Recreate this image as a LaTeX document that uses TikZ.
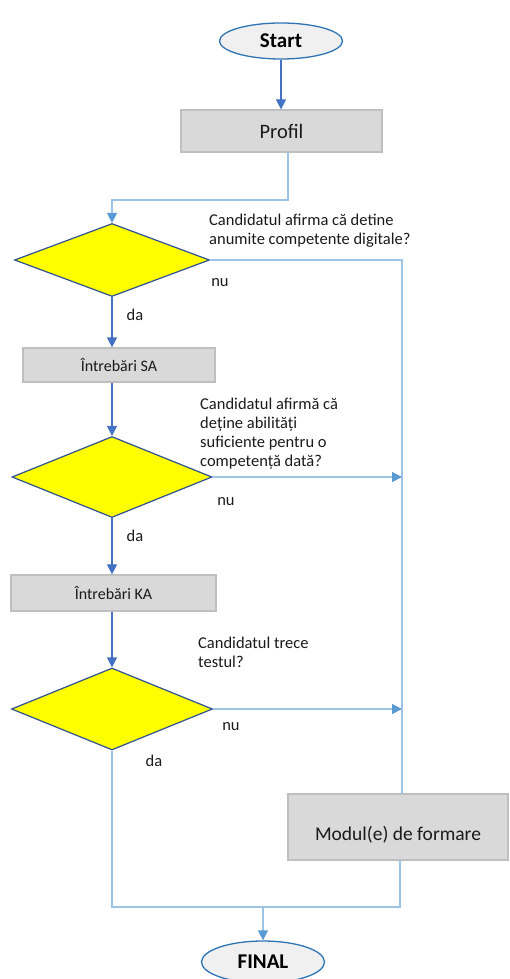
\documentclass[tikz,border=0pt]{standalone}
\usepackage{fontspec}
\setmainfont{Carlito}
\usetikzlibrary{arrows.meta,shapes.geometric,calc}
\definecolor{mainblue}{HTML}{4472C4}
\definecolor{lightline}{HTML}{9DC3E6}
\definecolor{tipblue}{HTML}{5B9BD5}
\definecolor{dborder}{HTML}{2F528F}
\definecolor{eborder}{HTML}{2E75B6}
\definecolor{efill}{HTML}{F0F0F0}
\definecolor{bfill}{HTML}{D9D9D9}
\definecolor{bborder}{HTML}{BFBFBF}
\definecolor{txt}{HTML}{1A1A1A}
\definecolor{dfill}{RGB}{255,255,0}
\tikzset{
  term/.style={ellipse, draw=eborder, line width=1.3pt, fill=efill, inner sep=0pt, font=\fontsize{21}{23}\selectfont\bfseries, text=black},
  procbox/.style={rectangle, draw=bborder, line width=1.2pt, fill=bfill, inner sep=0pt, text=txt},
  decision/.style={diamond, draw=dborder, line width=1.2pt, fill=dfill, inner sep=0pt},
  qtext/.style={align=left, inner sep=0pt, font=\fontsize{16.5}{19}\selectfont, text=txt},
  lbl/.style={inner sep=0pt, font=\fontsize{16.5}{19}\selectfont, text=txt},
  darrow/.style={draw=mainblue, line width=1.1pt, -{Triangle[length=10pt,width=10pt,color=mainblue]}},
  lline/.style={draw=lightline, line width=1.4pt},
  larrow/.style={draw=lightline, line width=1.4pt, -{Triangle[length=10pt,width=10pt,color=tipblue]}},
}
\begin{document}
\begin{tikzpicture}[x=1pt,y=-1pt]
\useasboundingbox (0,0) rectangle (509,979);
% nodes
\node[term, minimum width=123pt, minimum height=36pt] (start) at (281,41) {Start};
\node[procbox, minimum width=201pt, minimum height=42pt, font=\fontsize{20.5}{23}\selectfont] (profil) at (281.5,131) {Profil};
\node[decision, minimum width=195pt, minimum height=73pt] (d1) at (112,260) {};
\node[procbox, minimum width=192pt, minimum height=34pt, font=\fontsize{16}{18}\selectfont] (sa) at (119,365) {Întrebări SA};
\node[decision, minimum width=200pt, minimum height=81pt] (d2) at (112,477) {};
\node[procbox, minimum width=205pt, minimum height=36pt, font=\fontsize{16}{18}\selectfont] (ka) at (113.5,593) {Întrebări KA};
\node[decision, minimum width=201pt, minimum height=82pt] (d3) at (112,709) {};
\node[procbox, minimum width=220pt, minimum height=66pt] (mod) at (398,827) {};
\node[lbl, font=\fontsize{19.5}{22}\selectfont] (modtxt) at (398,835) {Modul(e) de formare};
\node[term, minimum width=123pt, minimum height=42pt] (final) at (263,962) {FINAL};
% texts
\node[qtext, anchor=west] (q1) at (209,230.5) {Candidatul afirma că detine\\anumite competente digitale?};
\node[qtext, anchor=west] (q2) at (200,433.5) {Candidatul afirmă că\\deține abilități\\suficiente pentru o\\competență dată?};
\node[qtext, anchor=west] (q3) at (198,652) {Candidatul trece\\testul?};
\node[lbl] (nu1) at (220,283) {nu};
\node[lbl] (da1) at (135,315) {da};
\node[lbl] (nu2) at (226,502) {nu};
\node[lbl] (da2) at (135,536) {da};
\node[lbl] (nu3) at (231,727) {nu};
\node[lbl] (da3) at (154,761) {da};
% helper coordinates
\coordinate (pout) at (288,152.5);
\coordinate (pturn) at (288,200);
\coordinate (mtop) at (402,794);
\coordinate (mbot) at (400,860);
\coordinate (merge) at (263,907);
% connectors
\draw[darrow] (start.south) -- (profil.north -| start.south);
\draw[larrow] (pout) -- (pturn) -| (d1.north);
\draw[lline] (d1.east) -| (mtop);
\draw[darrow] (d1.south) -- (d1.south |- sa.north);
\draw[darrow] (d2.north |- sa.south) -- (d2.north);
\draw[larrow] (d2.east) -- (d2.east -| mtop);
\draw[darrow] (d2.south) -- (d2.south |- ka.north);
\draw[darrow] (d3.north |- ka.south) -- (d3.north);
\draw[larrow] (d3.east) -- (d3.east -| mtop);
\draw[lline] (d3.south) |- (merge) -| (mbot);
\draw[larrow] (merge) -- (final.north);
\end{tikzpicture}
\end{document}
